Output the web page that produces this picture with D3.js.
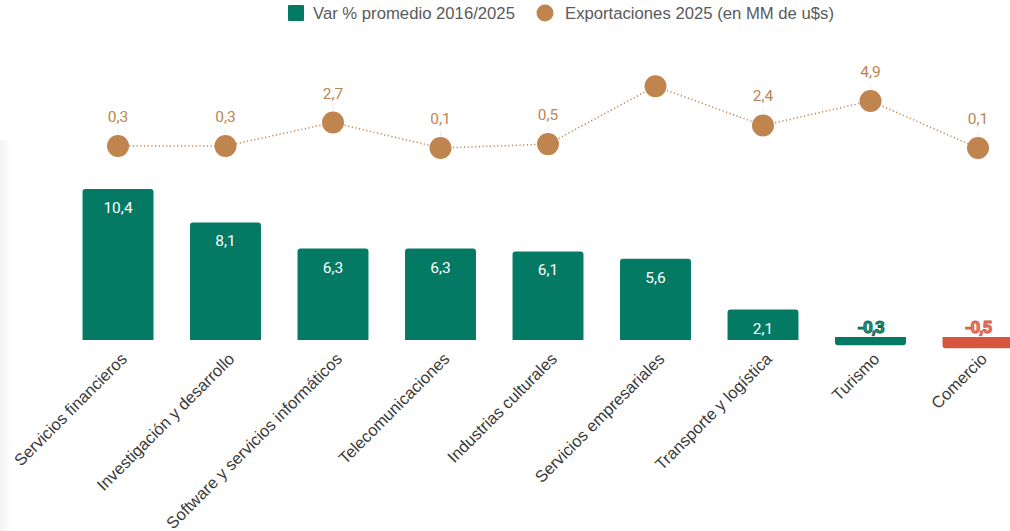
<!DOCTYPE html>
<html>
<head>
<meta charset="utf-8">
<script src="https://cdn.jsdelivr.net/npm/d3@7"></script>
<style>
  body { margin: 0; background: #fff; font-family: "Liberation Sans", Arial, sans-serif; }
  svg { display: block; }
</style>
</head>
<body>
<svg id="chart" width="1010" height="531"></svg>
<script>
// categories and series
const categories = ["Servicios financieros", "Investigación y desarrollo", "Software y servicios informáticos",
  "Telecomunicaciones", "Industrias culturales", "Servicios empresariales", "Transporte y logística",
  "Turismo", "Comercio"];
const varPromedio = [10.4, 8.1, 6.3, 6.3, 6.1, 5.6, 2.1, -0.3, -0.5];
const exportaciones = [0.3, 0.3, 2.7, 0.1, 0.5, 6.4, 2.4, 4.9, 0.1];
const legendLabels = ["Var % promedio 2016/2025", "Exportaciones 2025 (en MM de u$s)"];

const green = "#047a64", orange = "#c0844f", red = "#d6563e";
const fmt = v => String(v).replace(".", ",");

let svg = d3.select("#chart");

// faint shadow at the left edge
let defs = svg.append("defs");
let grad = defs.append("linearGradient").attr("id", "shade");
grad.append("stop").attr("offset", "0").attr("stop-color", "#f3f3f3");
grad.append("stop").attr("offset", "1").attr("stop-color", "#fff");
svg.append("rect").attr("x", 0).attr("y", 140).attr("width", 12).attr("height", 391).attr("fill", "url(#shade)");

let x = d3.scaleBand().domain(categories).range([64.25, 1031.75]).paddingInner(0.34).paddingOuter(0.17);
let cx = d => x(d) + x.bandwidth() / 2;

let yBar = d3.scaleLinear().domain([0, 10.4]).range([340, 189]);
let yDot = d3.scaleLinear().domain([0, 4.9]).range([149, 101]);

// bars
let bars = svg.append("g");
let r = 3;
bars.selectAll("path")
  .data(categories)
  .enter()
  .append("path")
  .attr("d", (d, i) => {
    let v = varPromedio[i];
    let x0 = x(d), w = x.bandwidth();
    if (v >= 0) {
      let y0 = yBar(v), y1 = yBar(0);
      return `M${x0},${y1} V${y0 + r} Q${x0},${y0} ${x0 + r},${y0} H${x0 + w - r} Q${x0 + w},${y0} ${x0 + w},${y0 + r} V${y1} Z`;
    } else {
      let y0 = yBar(0) - 3, y1 = yBar(v) + 1;
      return `M${x0},${y0} H${x0 + w} V${y1 - r} Q${x0 + w},${y1} ${x0 + w - r},${y1} H${x0 + r} Q${x0},${y1} ${x0},${y1 - r} Z`;
    }
  })
  .attr("fill", (d, i) => i === categories.length - 1 ? red : green);

// bar labels
bars.selectAll("text")
  .data(categories)
  .enter()
  .append("text")
  .text((d, i) => fmt(varPromedio[i]))
  .attr("x", (d, i) => varPromedio[i] < 0 ? Math.min(cx(d), 990) : cx(d))
  .attr("y", (d, i) => varPromedio[i] >= 0 ? yBar(varPromedio[i]) + 24 : 333)
  .attr("text-anchor", "middle")
  .attr("font-family", "Roboto, sans-serif")
  .attr("font-size", (d, i) => varPromedio[i] >= 0 ? "15.5px" : "17px")
  .attr("font-weight", (d, i) => varPromedio[i] >= 0 ? "normal" : "bold")
  .attr("letter-spacing", (d, i) => varPromedio[i] >= 0 ? "0" : "-1px")
  .attr("fill", (d, i) => varPromedio[i] >= 0 ? "#fff" : (i === categories.length - 1 ? "#e8826e" : "#2f9a84"))
  .attr("stroke", (d, i) => varPromedio[i] >= 0 ? "none" : (i === categories.length - 1 ? red : "#036650"))
  .attr("stroke-width", 1);

// x labels
let xLabels = svg.append("g");
xLabels.selectAll("text")
  .data(categories)
  .enter()
  .append("text")
  .text(d => d)
  .attr("transform", d => `translate(${cx(d) + 10},${360}) rotate(-45)`)
  .attr("text-anchor", "end")
  .attr("font-size", "16.5px")
  .attr("fill", "#3a3a3a");

// dotted line
let line = d3.line()
  .x((d, i) => cx(categories[i]))
  .y(d => yDot(d));

svg.append("path")
  .datum(exportaciones)
  .attr("d", line)
  .attr("fill", "none")
  .attr("stroke", orange)
  .attr("stroke-width", 1.5)
  .attr("stroke-dasharray", "1.2,2.5");

// connector ticks, dots and labels (label for the highest dot is not shown in the original)
let dots = svg.append("g");
let shown = d => yDot(d) > 95;
dots.selectAll("line")
  .data(exportaciones)
  .enter()
  .append("line")
  .attr("display", d => shown(d) ? null : "none")
  .attr("x1", (d, i) => cx(categories[i]))
  .attr("x2", (d, i) => cx(categories[i]))
  .attr("y1", d => yDot(d) - 10)
  .attr("y2", d => yDot(d) - 18)
  .attr("stroke", "#eee");

dots.selectAll("circle")
  .data(exportaciones)
  .enter()
  .append("circle")
  .attr("cx", (d, i) => cx(categories[i]))
  .attr("cy", d => yDot(d))
  .attr("r", 11)
  .attr("fill", orange);

dots.selectAll("text")
  .data(exportaciones)
  .enter()
  .append("text")
  .attr("display", d => shown(d) ? null : "none")
  .text(d => fmt(d))
  .attr("x", (d, i) => cx(categories[i]))
  .attr("y", d => yDot(d) - 24)
  .attr("text-anchor", "middle")
  .attr("font-family", "Roboto, sans-serif")
  .attr("font-size", "15.5px")
  .attr("fill", orange);

// legend
let legend = svg.append("g");
legend.append("rect").attr("x", 288).attr("y", 5).attr("width", 16).attr("height", 16).attr("rx", 1).attr("fill", green);
legend.append("text").text(legendLabels[0]).attr("x", 313).attr("y", 19).attr("font-size", "16.7px").attr("fill", "#5a5a5a");
legend.append("circle").attr("cx", 545).attr("cy", 13).attr("r", 8.5).attr("fill", orange);
legend.append("text").text(legendLabels[1]).attr("x", 565).attr("y", 19).attr("font-size", "16.7px").attr("fill", "#5a5a5a");
</script>
</body>
</html>
